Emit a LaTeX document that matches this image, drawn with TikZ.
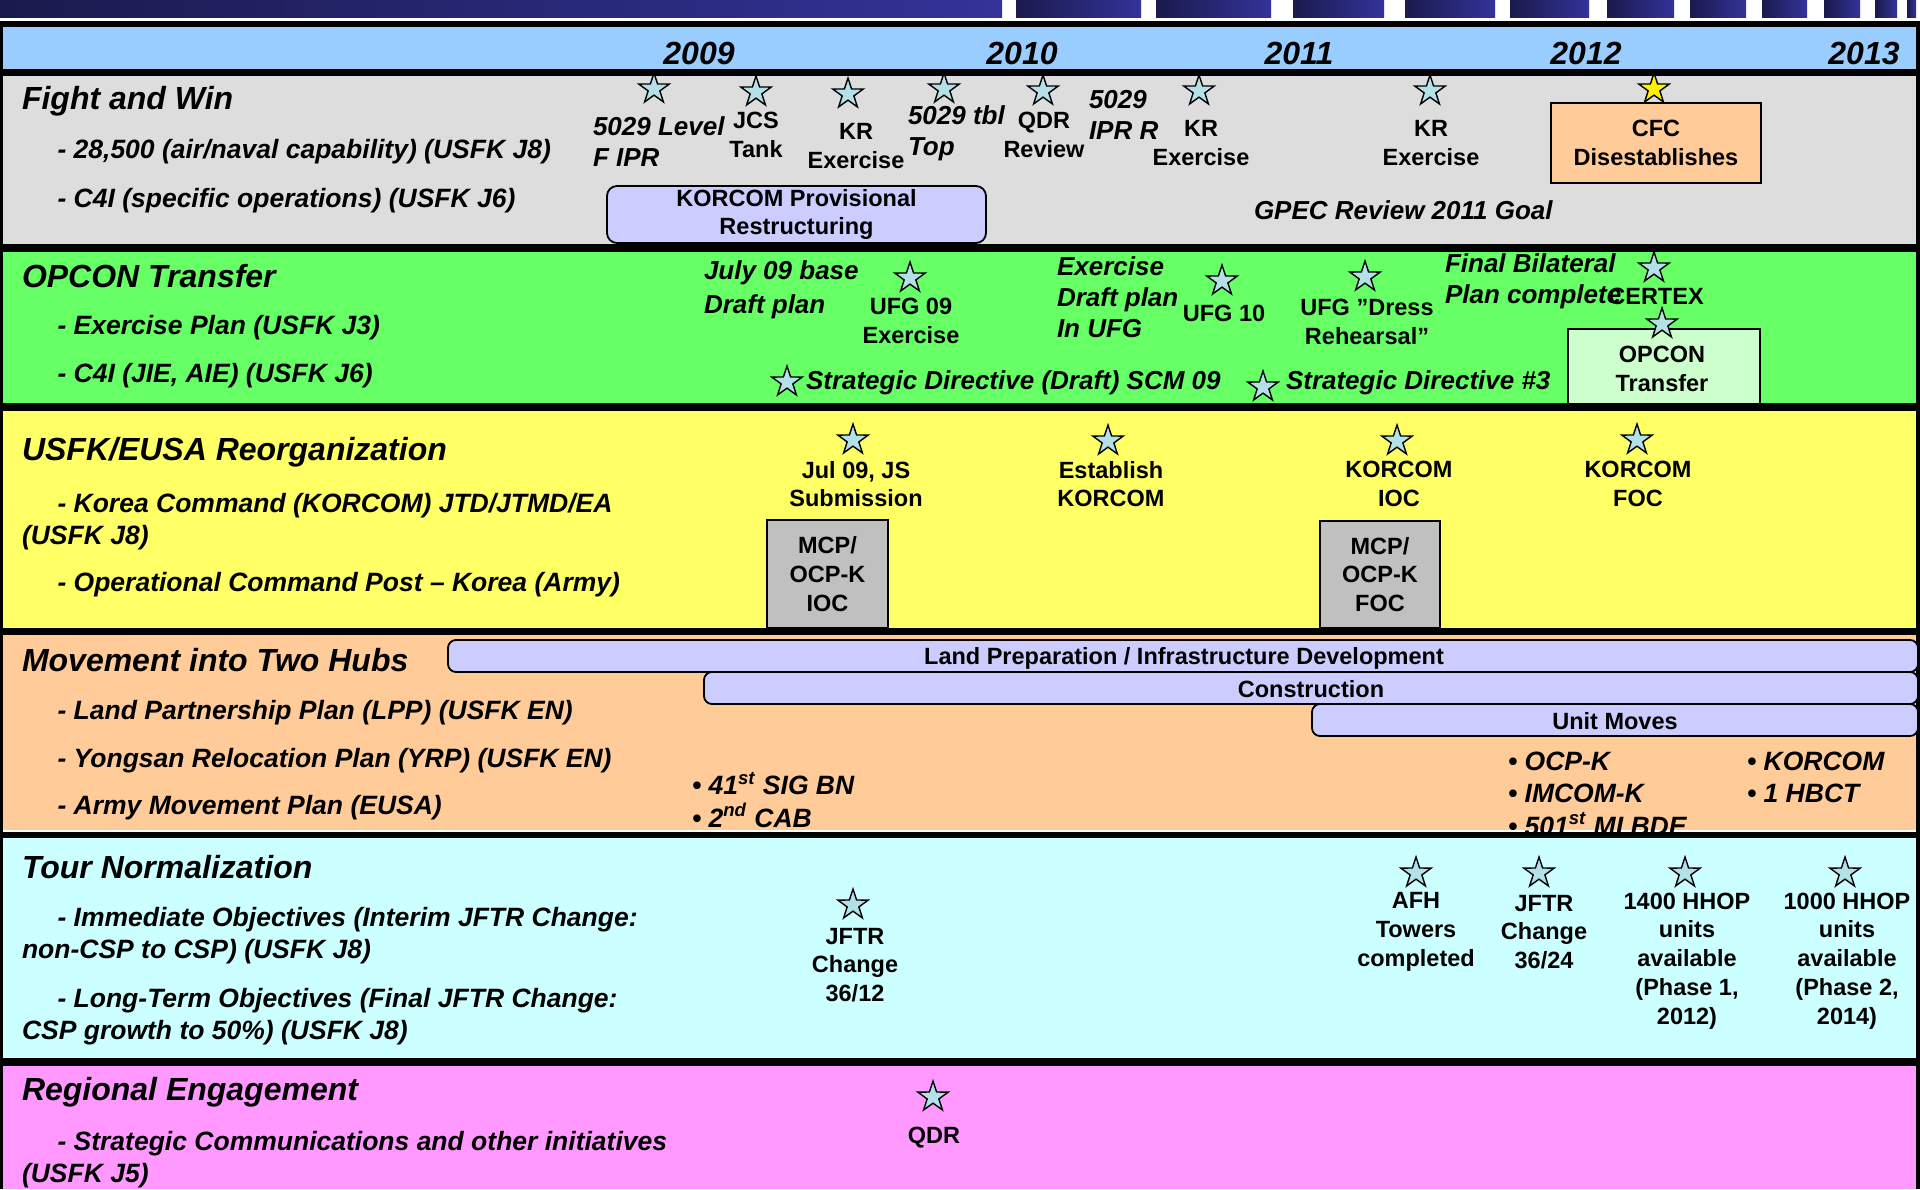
\documentclass[tikz,border=0pt]{standalone}
\usepackage{fontspec}
\setmainfont{Liberation Sans}
\usetikzlibrary{shapes.geometric}
\definecolor{hdrblue}{HTML}{99CCFF}
\definecolor{bgray}{HTML}{DDDDDD}
\definecolor{bgreen}{HTML}{66FF66}
\definecolor{byellow}{HTML}{FFFF66}
\definecolor{borange}{HTML}{FFCC99}
\definecolor{bcyan}{HTML}{CCFFFF}
\definecolor{bmag}{HTML}{FF99FF}
\definecolor{starblue}{HTML}{B4E1E8}
\definecolor{lav}{HTML}{CCCCFF}
\definecolor{boxgray}{HTML}{C0C0C0}
\definecolor{lgreen}{HTML}{CCFFCC}
\definecolor{navyL}{HTML}{1A1A4D}
\definecolor{navyR}{HTML}{333399}
\begin{document}
\begin{tikzpicture}[x=0.5pt,y=-0.5pt,
  every node/.style={inner sep=0pt,outer sep=0pt},
  head/.style={anchor=west,yshift=-1.6pt,font=\fontsize{16}{19}\selectfont\bfseries\itshape},
  item/.style={anchor=west,align=left,yshift=-1.6pt,font=\fontsize{13.25}{16}\selectfont\bfseries\itshape},
  ilab/.style={anchor=west,align=left,yshift=-0.6pt,font=\fontsize{13}{15.5}\selectfont\bfseries\itshape},
  blist/.style={anchor=west,align=left,font=\fontsize{13.25}{16.25}\selectfont\bfseries\itshape},
  lab/.style={align=center,font=\fontsize{11.75}{14.4}\selectfont\bfseries},
  yr/.style={font=\fontsize{16}{19}\selectfont\bfseries\itshape},
  ms/.style={star,star points=5,star point ratio=2.6,minimum size=16pt,draw=black,line width=0.7pt,fill=starblue},
  bar/.style={lab,draw=black,line width=0.9pt,fill=lav,rounded corners=4pt},
  tbox/.style={lab,draw=black,line width=0.9pt}]
\useasboundingbox (0,0) rectangle (1920,1189);
\fill[white] (0,0) rectangle (1920,1189);
% banner
\foreach \a/\b in {0/1002,1016/1141,1156/1271,1293/1384,1405/1495,1510/1589,1607/1674,1690/1746,1762/1807,1824/1860,1875/1897,1907/1916}
  \shade[left color=navyL,right color=navyR] (\a,0) rectangle (\b,17);
% frame and bands
\fill[black] (0,21) rectangle (1920,1189);
\fill[hdrblue] (3,27) rectangle (1916,69);
\fill[bgray] (3,76) rectangle (1916,244);
\fill[bgreen] (3,252) rectangle (1916,403);
\fill[byellow] (3,411) rectangle (1916,628);
\fill[borange] (3,635) rectangle (1916,829.5);
\fill[white] (3,829.5) rectangle (1916,831.5);
\fill[bcyan] (3,838) rectangle (1916,1058);
\fill[bmag] (3,1066) rectangle (1916,1189);
% years
\node[yr] (y09) at (699,53) {2009};
\node[yr] (y10) at (1022,53) {2010};
\node[yr] (y11) at (1299,53) {2011};
\node[yr] (y12) at (1586,53) {2012};
\node[yr] (y13) at (1864,53) {2013};
% Fight and Win
\node[head] (h1) at (22,98) {Fight and Win};
\node[item] (i11) at (57.5,148) {- 28,500 (air/naval capability) (USFK J8)};
\node[item] (i12) at (57.5,197) {- C4I (specific operations) (USFK J6)};
\node[ilab] (l11) at (593,140) {5029 Level\\F IPR};
\node[lab] (l12) at (756,135) {JCS\\Tank};
\node[lab] (l13) at (856,146) {KR\\Exercise};
\node[ilab] (l14) at (908,132) {5029 tbl\\Top};
\node[lab] (l15) at (1044,135) {QDR\\Review};
\node[ilab] (l16) at (1089,114) {5029\\IPR R};
\node[lab] (l17) at (1201,143) {KR\\Exercise};
\node[lab] (l18) at (1431,143) {KR\\Exercise};
\node[tbox,fill=borange,minimum width=105pt,minimum height=40pt] (cfc) at (1656,143) {CFC\\Disestablishes};
\node[bar,rounded corners=5pt,minimum width=189.5pt,minimum height=28.5pt,yshift=-1pt] (kprov) at (796.5,212.5) {KORCOM Provisional\\Restructuring};
\node[ilab] (gpec) at (1254,209) {GPEC Review 2011 Goal};
\node[ms] (s11) at (654,89) {};
\node[ms] (s12) at (756,92) {};
\node[ms] (s13) at (848,94) {};
\node[ms] (s14) at (944,89) {};
\node[ms] (s15) at (1043,91) {};
\node[ms] (s16) at (1199,91) {};
\node[ms] (s17) at (1430,91) {};
\node[ms,fill=yellow] (s18) at (1654,89) {};
% OPCON Transfer
\node[head] (h2) at (22,273) {OPCON Transfer};
\node[item] (i21) at (57.5,324) {- Exercise Plan (USFK J3)};
\node[item] (i22) at (57.5,372) {- C4I (JIE, AIE) (USFK J6)};
\node[ilab,font=\fontsize{13}{17}\selectfont\bfseries\itshape] (l21) at (704,289) {July 09 base\\Draft plan};
\node[ms] (s21) at (910,278) {};
\node[lab] (l22) at (911,321) {UFG 09\\Exercise};
\node[ilab] (l23) at (1057,296) {Exercise\\Draft plan\\In UFG};
\node[ms] (s22) at (1222,281) {};
\node[lab] (l24) at (1224,313) {UFG 10};
\node[ms] (s23) at (1365,277) {};
\node[lab] (l25) at (1367,322) {UFG ”Dress\\Rehearsal”};
\node[ilab] (l26) at (1445,280) {Final Bilateral\\Plan complete};
\node[ms] (s24) at (1654,268) {};
\node[lab] (l27) at (1656,296) {CERTEX};
\node[tbox,fill=lgreen,minimum width=96pt,minimum height=37.5pt] (opcon) at (1664,366.5) {};
\node[lab] (opcont) at (1662,369) {OPCON\\Transfer};
\node[ms] (s25) at (1662,324) {};
\node[ms] (s26) at (787,382) {};
\node[ilab,yshift=-1pt] (l28) at (806,380) {Strategic Directive (Draft) SCM 09};
\node[ms] (s27) at (1263,387) {};
\node[ilab,yshift=-1pt] (l29) at (1286,380) {Strategic Directive \#3};
% USFK/EUSA Reorganization
\node[head] (h3) at (22,449) {USFK/EUSA Reorganization};
\node[item] (i31) at (22,518) {\hspace*{17.75pt}- Korea Command (KORCOM) JTD/JTMD/EA\\(USFK J8)};
\node[item] (i32) at (57.5,581) {- Operational Command Post – Korea (Army)};
\node[ms] (s31) at (853,440) {};
\node[ms] (s32) at (1108,441) {};
\node[ms] (s33) at (1397,441) {};
\node[ms] (s34) at (1637,440) {};
\node[lab] (l31) at (856,484) {Jul 09, JS\\Submission};
\node[lab] (l32) at (1111,484) {Establish\\KORCOM};
\node[lab] (l33) at (1399,484) {KORCOM\\IOC};
\node[lab] (l34) at (1638,484) {KORCOM\\FOC};
\node[tbox,fill=boxgray,minimum width=60.5pt,minimum height=54pt] (mcp1) at (827.5,574) {MCP/\\OCP-K\\IOC};
\node[tbox,fill=boxgray,minimum width=60pt,minimum height=53.5pt] (mcp2) at (1380,574.5) {MCP/\\OCP-K\\FOC};
% Movement into Two Hubs
\node[head,yshift=1pt] (h4) at (22,659) {Movement into Two Hubs};
\node[item] (i41) at (57.5,709) {- Land Partnership Plan (LPP) (USFK EN)};
\node[item] (i42) at (57.5,757) {- Yongsan Relocation Plan (YRP) (USFK EN)};
\node[item,yshift=-0.6pt] (i43) at (57.5,803) {- Army Movement Plan (EUSA)};
\node[bar,minimum width=735pt,minimum height=16pt] (b1) at (1183,656) {};
\node[bar,minimum width=607pt,minimum height=16pt] (b2) at (1311,688) {};
\node[bar,minimum width=303pt,minimum height=16pt] (b3) at (1615,720) {};
\node[lab] (b1t) at (1184,658) {Land Preparation / Infrastructure Development};
\node[lab] (b2t) at (1311,689) {Construction};
\node[lab] (b3t) at (1615,721) {Unit Moves};
\node[blist] (bl1) at (692,800) {• 41\textsuperscript{st} SIG BN\\• 2\textsuperscript{nd} CAB};
\node[blist] (bl2) at (1508,793.5) {• OCP-K\\• IMCOM-K\\• 501\textsuperscript{st} MI BDE};
\node[blist] (bl3) at (1747,777.5) {• KORCOM\\• 1 HBCT};
% Tour Normalization
\node[head,yshift=1.2pt] (h5) at (22,866) {Tour Normalization};
\node[item] (i51) at (22,932.5) {\hspace*{17.75pt}- Immediate Objectives (Interim JFTR Change:\\non-CSP to CSP) (USFK J8)};
\node[item] (i52) at (22,1013.5) {\hspace*{17.75pt}- Long-Term Objectives (Final JFTR Change:\\CSP growth to 50\%) (USFK J8)};
\node[ms] (s51) at (853,905) {};
\node[ms] (s52) at (1416,873) {};
\node[ms] (s53) at (1539,873) {};
\node[ms] (s54) at (1685,873) {};
\node[ms] (s55) at (1845,873) {};
\node[lab] (l51) at (855,965) {JFTR\\Change\\36/12};
\node[lab] (l52) at (1416,932) {AFH\\Towers\\completed};
\node[lab] (l53) at (1544,932) {JFTR\\Change\\36/24};
\node[lab] (l54) at (1687,961) {1400 HHOP\\units\\available\\(Phase 1,\\2012)};
\node[lab] (l55) at (1847,961) {1000 HHOP\\units\\available\\(Phase 2,\\2014)};
% Regional Engagement
\node[head,yshift=0.6pt] (h6) at (22,1090) {Regional Engagement};
\node[item] (i61) at (22,1156.5) {\hspace*{17.75pt}- Strategic Communications and other initiatives\\(USFK J5)};
\node[ms] (s61) at (933,1097) {};
\node[lab] (l61) at (934,1138) {QDR};
\end{tikzpicture}
\end{document}
